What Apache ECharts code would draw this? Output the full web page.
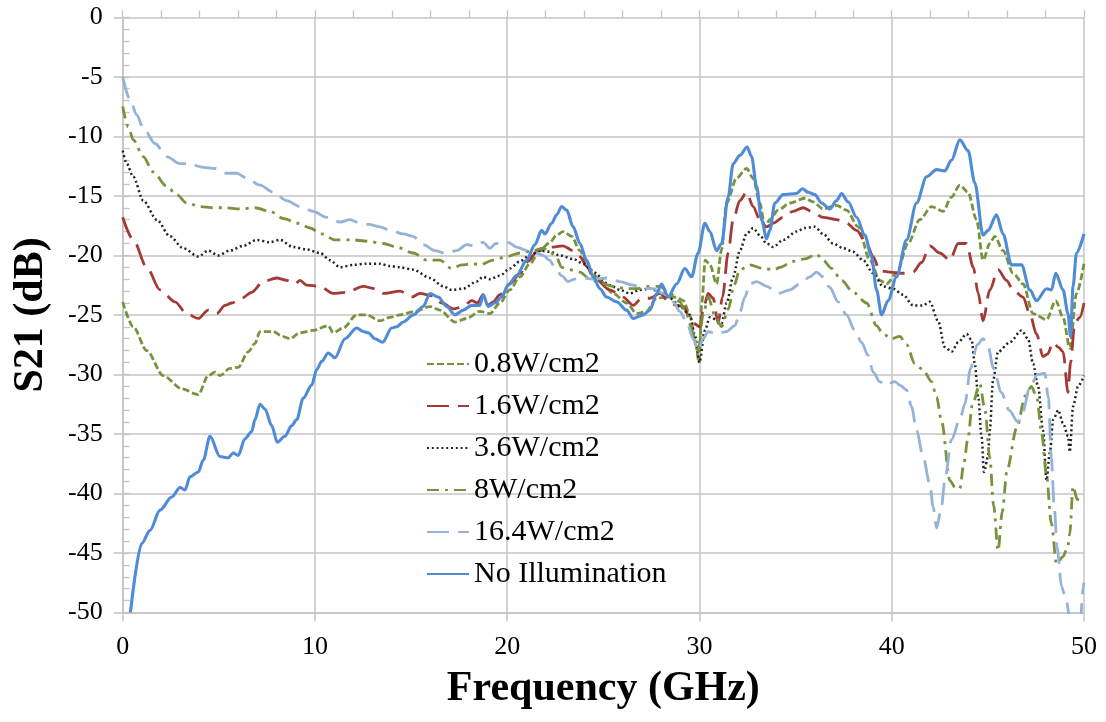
<!DOCTYPE html>
<html>
<head>
<meta charset="utf-8">
<script src="https://cdn.jsdelivr.net/npm/echarts@6/dist/echarts.min.js"></script>
<style>
  html, body { margin: 0; padding: 0; background: #ffffff; }
  #chart { width: 1106px; height: 722px; }
</style>
</head>
<body>
<div id="chart"></div>
<script>
// Measured S21 transmission vs. frequency for several illumination intensities.
// Each series is a list of [frequency (GHz), S21 (dB)] points.

const seriesNames = ['0.8W/cm2', '1.6W/cm2', '3.6W/cm2', '8W/cm2', '16.4W/cm2', 'No Illumination'];

const xTicks = [0, 10, 20, 30, 40, 50];
const yTicks = [0, -5, -10, -15, -20, -25, -30, -35, -40, -45, -50];

const s21_0p8W = [
  [0,-23.9],[0.55,-26.0],[1.25,-28.0],[2.11,-30.1],[3.07,-31.2],[3.93,-31.7],[4.45,-30.1],[4.8,-29.8],
  [5.06,-30.1],[5.58,-29.5],[6.01,-29.4],[6.53,-28.1],[6.88,-27.4],[7.14,-26.4],[7.83,-26.4],[8.3,-26.8],
  [8.7,-27.0],[9.22,-26.5],[9.91,-26.3],[10.69,-25.9],[10.95,-26.5],[11.47,-26.1],[12.17,-25.0],[12.69,-25.0],
  [13.38,-25.5],[13.9,-25.2],[14.42,-25.0],[15.2,-24.7],[15.98,-24.3],[16.5,-24.6],[17.28,-25.6],[17.89,-25.3],
  [18.58,-24.7],[19.1,-24.9],[19.62,-24.0],[20.14,-22.9],[20.66,-21.8],[21.18,-20.7],[21.7,-19.6],[22.22,-18.9],
  [22.57,-18.3],[22.91,-18.0],[23.35,-18.4],[23.78,-19.6],[24.21,-21.0],[24.82,-22.1],[25.51,-23.2],[26.21,-24.0],
  [26.73,-24.9],[27.25,-24.7],[27.77,-23.6],[28.29,-23.5],[28.81,-23.5],[29.16,-23.8],[29.5,-25.0],[29.8,-27.5],
  [29.98,-29.0],[30.12,-24.0],[30.3,-20.4],[30.55,-20.8],[30.89,-22.4],[31.15,-19.5],[31.41,-15.6],[31.93,-13.5],
  [32.45,-12.7],[32.79,-13.5],[33.14,-15.6],[33.4,-17.6],[33.66,-17.0],[34.09,-16.2],[34.7,-15.6],[35.48,-15.2],
  [35.91,-15.5],[36.43,-16.1],[37.13,-15.8],[37.65,-16.2],[38.25,-17.6],[38.86,-20.4],[39.38,-22.1],[39.73,-22.4],
  [40.25,-21.5],[40.85,-19.0],[41.46,-17.0],[42.07,-15.9],[42.67,-16.3],[43.11,-15.1],[43.54,-14.1],[43.97,-14.7],
  [44.41,-17.0],[44.75,-20.4],[45.1,-19.0],[45.36,-18.4],[45.79,-19.6],[46.31,-21.5],[46.83,-22.4],[47.35,-24.9],
  [48.05,-25.4],[48.53,-23.8],[48.91,-25.2],[49.26,-27.8],[49.61,-23.2],[50,-20.7]
];

const s21_1p6W = [
  [0,-16.8],[0.55,-18.7],[1.25,-21.0],[1.94,-22.9],[2.72,-23.9],[3.33,-24.9],[3.93,-25.3],[4.45,-24.6],
  [4.89,-24.9],[5.32,-24.2],[5.67,-24.0],[6.19,-23.6],[6.71,-23.1],[7.31,-22.2],[8.01,-21.9],[8.53,-22.1],
  [8.96,-22.4],[9.22,-22.1],[9.57,-22.5],[10.26,-22.6],[10.95,-23.2],[11.65,-23.1],[12.51,-22.6],[13.12,-22.8],
  [13.55,-23.2],[14.42,-23.0],[15.03,-23.5],[15.46,-23.2],[16.1,-23.4],[16.6,-24.0],[17.2,-24.5],[17.71,-24.3],
  [18.15,-23.8],[18.45,-24.0],[18.75,-23.3],[19.0,-24.2],[19.27,-23.9],[19.62,-23.3],[20.14,-22.4],[20.66,-21.5],
  [21.09,-20.5],[21.53,-19.7],[21.96,-19.4],[22.39,-19.3],[22.9,-19.2],[23.43,-19.6],[23.78,-20.1],[24.13,-20.9],
  [24.47,-21.8],[25.34,-22.9],[25.77,-23.2],[26.03,-23.5],[26.55,-24.2],[26.99,-23.6],[27.42,-23.6],[27.94,-23.2],
  [28.46,-24.0],[28.81,-24.2],[29.16,-24.3],[29.59,-25.6],[30.02,-26.0],[30.2,-24.5],[30.45,-23.2],[30.71,-23.6],
  [30.97,-25.7],[31.2,-23.5],[31.49,-19.8],[31.75,-17.0],[32.1,-15.4],[32.45,-14.7],[32.79,-15.9],[33.14,-17.0],
  [33.49,-17.6],[33.83,-17.3],[34.35,-16.8],[34.87,-16.3],[35.39,-16.0],[35.83,-16.3],[36.43,-16.8],[37.13,-17.0],
  [37.65,-17.3],[38.17,-17.9],[38.69,-19.0],[39.03,-20.1],[39.38,-21.3],[39.9,-21.4],[40.51,-21.5],[41.11,-21.4],
  [41.55,-20.6],[41.98,-19.2],[42.5,-19.8],[43.02,-20.4],[43.46,-19.0],[43.89,-19.0],[44.24,-21.0],[44.5,-23.2],
  [44.75,-25.5],[45.1,-22.9],[45.53,-21.2],[45.97,-22.1],[46.31,-22.9],[46.83,-23.5],[47.18,-24.9],[47.53,-26.6],
  [47.87,-28.5],[48.1,-28.3],[48.4,-27.3],[48.66,-27.7],[48.91,-28.1],[49.17,-31.5],[49.3,-29.0],[49.52,-25.7],
  [49.78,-25.2],[50,-24.0]
];

const s21_3p6W = [
  [0,-11.2],[0.21,-12.3],[0.55,-13.4],[1.07,-15.4],[1.77,-17.0],[2.46,-18.4],[3.15,-19.4],[3.93,-20.1],
  [4.45,-19.6],[4.97,-20.0],[5.58,-19.6],[6.27,-19.2],[6.97,-18.7],[7.66,-18.9],[8.18,-18.7],[8.87,-19.3],
  [9.57,-19.5],[10.26,-19.8],[10.78,-20.4],[11.3,-21.0],[11.99,-20.8],[12.69,-20.7],[13.38,-20.7],[13.9,-20.9],
  [14.42,-21.0],[15.11,-21.2],[15.98,-21.9],[16.67,-22.6],[17.11,-22.9],[17.71,-22.8],[18.41,-22.2],[18.75,-21.8],
  [19.1,-22.0],[19.62,-21.7],[20.14,-21.1],[20.66,-20.5],[21.18,-20.0],[21.7,-19.6],[22.22,-19.7],[22.74,-20.0],
  [23.43,-20.3],[23.95,-20.7],[24.47,-21.4],[25.34,-22.5],[25.86,-22.9],[26.38,-23.2],[26.9,-22.9],[27.42,-22.8],
  [28.03,-23.1],[28.46,-23.6],[28.98,-24.3],[29.5,-25.0],[29.76,-26.7],[30.0,-29.0],[30.28,-26.3],[30.54,-25.2],
  [30.89,-25.4],[31.15,-25.7],[31.41,-24.0],[31.75,-21.8],[32.1,-19.6],[32.45,-18.2],[32.79,-17.7],[33.14,-18.3],
  [33.49,-19.0],[33.83,-19.3],[34.35,-18.7],[35.05,-18.0],[35.48,-17.7],[36.0,-17.6],[36.43,-18.2],[36.95,-19.0],
  [37.47,-19.4],[37.99,-19.7],[38.51,-20.4],[39.03,-21.5],[39.55,-22.6],[40.07,-22.8],[40.59,-23.3],[41.11,-24.2],
  [41.63,-24.2],[41.98,-23.9],[42.41,-25.5],[42.76,-27.7],[43.11,-28.1],[43.46,-27.3],[43.89,-26.6],[44.15,-27.1],
  [44.32,-29.1],[44.5,-31.9],[44.67,-35.2],[44.8,-38.2],[45.01,-36.9],[45.1,-34.7],[45.27,-30.5],[45.53,-28.1],
  [46.14,-27.3],[46.75,-26.3],[47.09,-27.0],[47.35,-29.1],[47.61,-31.0],[47.87,-34.7],[48.05,-38.9],[48.22,-36.6],
  [48.4,-33.8],[48.66,-33.0],[48.91,-34.1],[49.17,-35.2],[49.26,-36.5],[49.43,-32.7],[49.69,-31.0],[50,-30.1]
];

const s21_8W = [
  [0,-7.5],[0.29,-9.2],[0.55,-10.3],[1.07,-11.7],[1.59,-13.0],[2.29,-14.2],[2.81,-14.9],[3.33,-15.6],
  [4.02,-15.9],[4.71,-16.0],[5.32,-16.0],[6.1,-16.1],[6.88,-16.0],[7.66,-16.3],[8.35,-16.9],[9.13,-17.3],
  [9.74,-17.7],[10.35,-18.2],[11.04,-18.7],[11.99,-18.7],[12.69,-18.8],[13.55,-19.0],[14.25,-19.3],[15.11,-19.8],
  [15.81,-20.4],[16.5,-20.4],[17.11,-21.1],[17.63,-20.8],[18.23,-20.7],[18.58,-20.8],[19.27,-20.4],[19.97,-20.1],
  [20.66,-19.8],[21.35,-19.6],[21.87,-19.4],[22.22,-19.7],[22.57,-20.2],[22.83,-21.0],[23.2,-21.2],[23.78,-21.4],
  [24.3,-22.0],[24.82,-22.3],[25.5,-22.6],[26.2,-22.8],[26.8,-22.8],[27.25,-22.6],[27.94,-22.6],[28.46,-23.2],
  [28.98,-23.9],[29.33,-25.0],[29.67,-26.5],[29.93,-28.0],[30.19,-25.0],[30.45,-23.5],[30.8,-25.0],[31.15,-26.0],
  [31.5,-24.5],[31.8,-22.5],[32.1,-21.2],[32.62,-20.8],[33.31,-21.1],[33.9,-21.2],[34.18,-21.0],[34.87,-20.5],
  [35.48,-20.3],[36.09,-19.9],[36.43,-20.4],[36.87,-21.1],[37.39,-22.1],[37.99,-23.1],[38.69,-24.0],[39.21,-25.9],
  [39.55,-26.6],[39.99,-27.0],[40.42,-26.8],[40.77,-27.5],[41.2,-29.1],[41.63,-29.6],[42.07,-30.6],[42.33,-31.9],
  [42.6,-34.0],[43.02,-38.9],[43.3,-39.5],[43.54,-39.6],[43.75,-37.5],[43.95,-35.5],[44.2,-32.5],[44.58,-30.8],
  [44.85,-33.0],[45.1,-37.0],[45.3,-41.0],[45.53,-44.8],[45.75,-41.5],[46.0,-38.0],[46.5,-34.5],[46.95,-31.8],
  [47.27,-31.0],[47.55,-32.0],[47.8,-35.0],[48.05,-38.5],[48.3,-42.5],[48.57,-45.9],[48.91,-45.3],[49.15,-44.5],
  [49.26,-43.4],[49.43,-39.4],[49.65,-40.5],[50,-40.6]
];

const s21_16p4W = [
  [0,-5.0],[0.38,-6.9],[0.73,-8.2],[1.07,-9.3],[1.68,-10.6],[2.29,-11.7],[2.98,-12.3],[3.41,-12.3],
  [4.19,-12.6],[4.8,-12.7],[5.41,-13.1],[5.93,-13.1],[6.45,-13.5],[7.14,-14.1],[7.83,-14.7],[8.53,-15.4],
  [9.22,-15.9],[9.91,-16.3],[10.61,-16.8],[11.3,-17.2],[11.82,-17.0],[12.17,-17.2],[12.8,-17.4],[13.38,-17.6],
  [13.9,-17.9],[14.59,-18.2],[15.11,-18.4],[15.63,-19.1],[16.24,-19.6],[16.76,-19.8],[17.37,-19.6],[17.89,-19.1],
  [18.3,-19.2],[18.75,-18.9],[19.1,-19.4],[19.4,-19.0],[20.05,-18.9],[20.49,-19.3],[21.01,-19.6],[21.53,-19.8],
  [21.87,-20.0],[22.2,-20.4],[22.48,-21.0],[22.83,-21.7],[23.17,-22.2],[23.5,-22.0],[24.04,-21.9],[24.5,-22.0],
  [25.17,-21.9],[25.86,-22.2],[26.55,-22.5],[27.07,-22.8],[27.59,-22.8],[28.11,-23.2],[28.63,-23.9],[28.98,-24.7],
  [29.33,-25.6],[29.67,-27.0],[29.93,-28.0],[30.19,-27.0],[30.45,-26.4],[30.89,-26.6],[31.41,-26.4],[31.84,-25.9],
  [32.1,-24.8],[32.36,-23.5],[32.62,-22.4],[32.97,-22.2],[33.49,-22.6],[34.09,-23.2],[34.7,-22.9],[35.22,-22.4],
  [35.74,-21.8],[36.09,-21.4],[36.43,-21.8],[36.78,-22.7],[37.21,-23.9],[37.65,-25.0],[38.08,-26.3],[38.43,-27.3],
  [38.77,-28.4],[39.03,-29.8],[39.38,-30.6],[39.64,-30.9],[40.16,-30.6],[40.42,-30.9],[40.77,-31.3],[41.03,-32.7],
  [41.29,-34.7],[41.63,-36.9],[41.98,-39.2],[42.15,-41.1],[42.33,-42.9],[42.55,-41.5],[42.8,-38.5],[43.1,-35.5],
  [43.54,-33.8],[43.8,-32.5],[44.1,-29.5],[44.45,-27.5],[44.75,-27.0],[45.0,-27.6],[45.3,-29.5],[45.7,-31.5],
  [46.1,-33.0],[46.57,-34.0],[46.8,-33.2],[47.2,-31.0],[47.6,-30.0],[47.96,-29.9],[48.15,-32.0],[48.3,-37.0],
  [48.45,-41.0],[48.6,-44.5],[48.83,-47.8],[49.09,-49.1],[49.3,-51.0],[49.8,-51.0],[49.95,-48.0],[50,-47.5]
];

const s21_noIllum = [
  [0.4,-50.0],[0.99,-44.2],[1.42,-43.1],[1.94,-41.4],[2.55,-40.3],[2.98,-39.5],[3.24,-39.7],[3.5,-38.6],
  [3.93,-38.2],[4.19,-37.2],[4.54,-35.2],[5.06,-36.9],[5.49,-37.0],[5.75,-36.6],[6.01,-36.8],[6.36,-35.4],
  [6.71,-34.8],[6.88,-33.8],[7.14,-32.5],[7.4,-32.9],[7.75,-34.3],[8.04,-35.7],[8.44,-35.2],[8.79,-34.3],
  [9.05,-33.8],[9.39,-32.0],[9.83,-30.9],[10.09,-29.6],[10.35,-28.9],[10.69,-28.2],[11.04,-28.6],[11.56,-27.0],
  [12.17,-26.1],[12.51,-26.4],[12.77,-26.5],[13.12,-27.0],[13.52,-27.3],[13.99,-26.1],[14.25,-26.0],[14.59,-25.6],
  [15.11,-25.0],[15.63,-24.3],[15.98,-23.2],[16.41,-23.5],[16.85,-24.3],[17.28,-25.0],[17.71,-24.6],[18.15,-24.2],
  [18.58,-24.2],[18.75,-23.3],[19.01,-24.3],[19.36,-24.0],[19.71,-23.5],[20.05,-22.5],[20.49,-21.7],[21.01,-20.4],
  [21.44,-19.1],[21.79,-17.9],[21.96,-18.2],[22.31,-17.3],[22.57,-16.6],[22.83,-15.9],[23.09,-16.2],[23.43,-17.6],
  [23.78,-19.0],[24.13,-20.4],[24.47,-21.8],[24.82,-22.8],[25.17,-23.5],[25.69,-23.9],[26.21,-24.6],[26.55,-25.3],
  [27.07,-25.0],[27.42,-24.6],[27.77,-23.2],[28.03,-22.4],[28.37,-23.5],[28.81,-22.4],[29.24,-21.1],[29.59,-21.8],
  [29.93,-19.8],[30.28,-17.3],[30.54,-18.0],[30.89,-19.6],[31.15,-19.0],[31.49,-15.1],[31.75,-12.3],[32.1,-11.6],
  [32.48,-10.9],[32.71,-11.7],[32.97,-14.2],[33.23,-17.0],[33.49,-18.6],[33.66,-17.9],[33.92,-15.6],[34.35,-14.9],
  [35.05,-14.8],[35.36,-14.4],[35.65,-14.7],[36.0,-14.9],[36.35,-15.6],[36.78,-16.1],[37.13,-15.4],[37.39,-14.8],
  [37.73,-15.5],[38.17,-16.8],[38.6,-18.3],[38.95,-20.1],[39.21,-22.9],[39.47,-25.0],[39.81,-23.8],[40.25,-21.8],
  [40.77,-18.7],[41.29,-15.6],[41.81,-13.4],[42.33,-12.8],[42.76,-12.9],[43.11,-12.0],[43.54,-10.3],[43.97,-11.2],
  [44.32,-13.9],[44.75,-18.3],[45.01,-17.9],[45.45,-16.6],[45.79,-18.2],[46.23,-20.8],[46.75,-20.8],[47.18,-22.9],
  [47.53,-23.8],[48.05,-22.8],[48.31,-22.9],[48.53,-21.5],[48.91,-22.9],[49.17,-24.9],[49.3,-26.8],[49.43,-22.6],
  [49.61,-19.8],[50,-18.2]
];

const FONT = '"Liberation Serif", "Times New Roman", serif';
const GRID_COLOR = '#c4c4c4';

const seriesData = [s21_0p8W, s21_1p6W, s21_3p6W, s21_8W, s21_16p4W, s21_noIllum];
const seriesStyle = [
  { color: '#77933C', width: 2.8, type: [7, 3] },
  { color: '#A33A36', width: 2.8, type: [22, 9] },
  { color: '#222222', width: 2.5, type: [2, 2.8] },
  { color: '#77933C', width: 2.8, type: [12, 6, 3, 6] },
  { color: '#95B3D7', width: 2.8, type: [22, 9] },
  { color: '#4F8BD6', width: 3.1, type: 'solid' }
];

const chart = echarts.init(document.getElementById('chart'), null, { renderer: 'canvas' });

chart.setOption({
  animation: false,
  backgroundColor: '#ffffff',
  grid: { left: 122.7, right: 22, top: 17.3, bottom: 109.5, containLabel: false },
  legend: {
    orient: 'vertical',
    left: 421,
    top: 344,
    itemWidth: 42,
    itemHeight: 14,
    itemGap: 12,
    itemStyle: { opacity: 0, borderWidth: 0 },
    data: seriesNames,
    textStyle: { fontFamily: FONT, fontSize: 30, color: '#000', lineHeight: 30 }
  },
  xAxis: [
    {
      type: 'value', min: 0, max: 50, interval: 10,
      name: 'Frequency (GHz)', nameLocation: 'middle', nameGap: 56,
      nameTextStyle: { fontFamily: FONT, fontSize: 42, fontWeight: 'bold', color: '#000' },
      axisLine: { show: true, onZero: false, lineStyle: { color: GRID_COLOR, width: 1.5 } },
      axisTick: { show: true, inside: false, length: 9, lineStyle: { color: GRID_COLOR, width: 1.5 } },
      axisLabel: { fontFamily: FONT, fontSize: 26, color: '#000', margin: 22 },
      splitLine: { show: true, lineStyle: { color: GRID_COLOR, width: 1.5 } }
    },
    {
      type: 'value', min: 0, max: 50, interval: 2, position: 'bottom',
      axisLine: { show: false },
      axisTick: { show: true, inside: true, length: 7, lineStyle: { color: GRID_COLOR, width: 1.3 } },
      axisLabel: { show: false },
      splitLine: { show: false }
    }
  ],
  yAxis: [
    {
      type: 'value', min: -50, max: 0, interval: 5,
      name: 'S21 (dB)', nameLocation: 'middle', nameGap: 71,
      nameTextStyle: { fontFamily: FONT, fontSize: 42, fontWeight: 'bold', color: '#000' },
      axisLine: { show: true, onZero: false, lineStyle: { color: GRID_COLOR, width: 1.5 } },
      axisTick: { show: true, inside: false, length: 9, lineStyle: { color: GRID_COLOR, width: 1.5 } },
      axisLabel: { fontFamily: FONT, fontSize: 26, color: '#000', margin: 20,
        formatter: function (v) { return yTicks.indexOf(v) >= 0 ? String(v) : ''; } },
      splitLine: { show: true, lineStyle: { color: GRID_COLOR, width: 1.5 } }
    },
    {
      type: 'value', min: -50, max: 0, interval: 1, position: 'left',
      axisLine: { show: false },
      axisTick: { show: true, inside: true, length: 7, lineStyle: { color: GRID_COLOR, width: 1.3 } },
      axisLabel: { show: false },
      splitLine: { show: false }
    }
  ],
  series: seriesNames.map(function (name, i) {
    const st = seriesStyle[i];
    return {
      name: name,
      type: 'line',
      xAxisIndex: 0,
      yAxisIndex: 0,
      data: seriesData[i],
      showSymbol: false,
      symbol: 'none',
      smooth: 0.3,
      smoothMonotone: 'x',
      clip: true,
      z: 2 + i,
      lineStyle: { color: st.color, width: st.width, type: st.type, cap: 'butt', join: 'round' },
      itemStyle: { color: st.color }
    };
  })
});
</script>
</body>
</html>
